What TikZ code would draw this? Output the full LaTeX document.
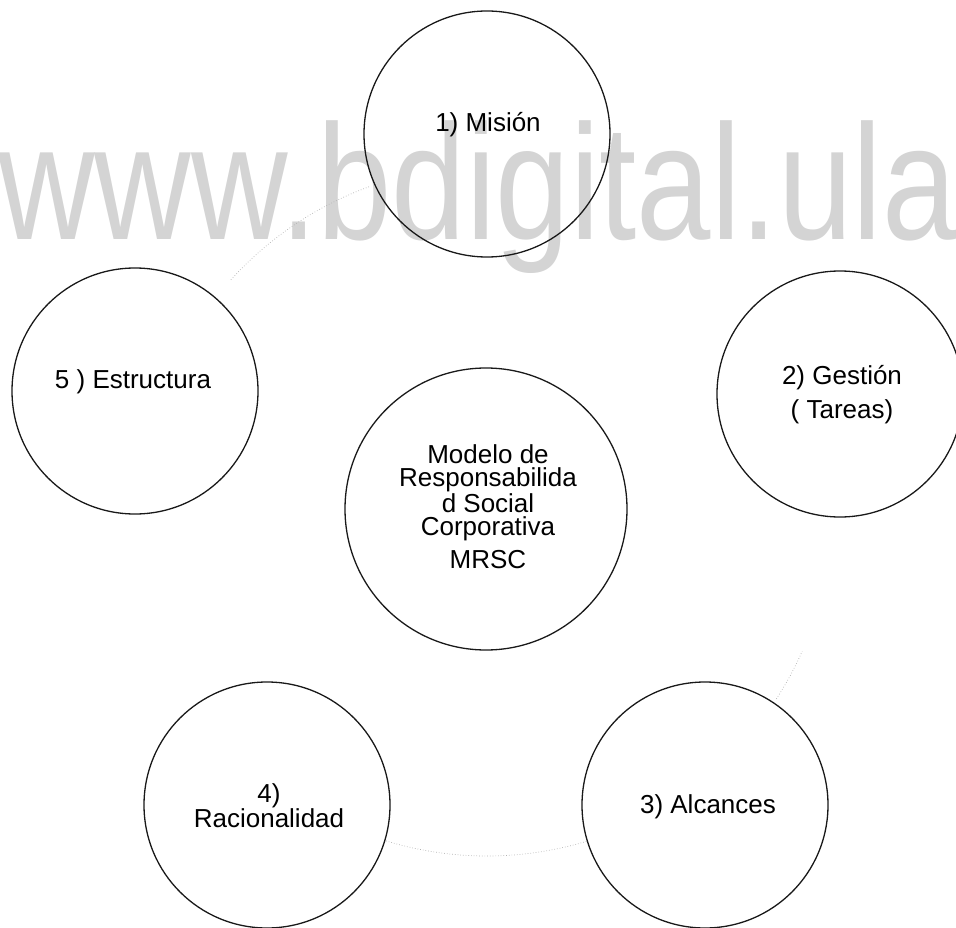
\documentclass[tikz,border=0pt]{standalone}
\usepackage{fontspec}
\setmainfont{Liberation Sans}
\definecolor{wm}{RGB}{212,212,212}
\begin{document}
\begin{tikzpicture}[x=1pt,y=1pt,
  bub/.style={circle, draw=black!90, line width=1.3pt, minimum size=246pt, inner sep=0pt},
  lbl/.style={align=center, inner sep=0pt, font=\fontsize{26}{25}\selectfont},
  ring/.style={draw=black!30, line width=0.7pt, dotted}]
\useasboundingbox (0,0) rectangle (956,-928);
\clip (0,0) rectangle (956,-928);
% watermark
\node[anchor=base west, text=wm, inner sep=0pt, font=\fontsize{164}{164}\selectfont, xscale=0.815] (wmark) at (-2,-240) {www.bdigital.ula};
% faint ring
\coordinate (ctr) at (487,-511);
\draw[ring] (ctr) ++(110:345) arc[start angle=110, end angle=138, radius=345];
\draw[ring] (ctr) ++(253:345) arc[start angle=253, end angle=287, radius=345];
\draw[ring] (ctr) ++(327:345) arc[start angle=327, end angle=336, radius=345];
% circles
\node[bub] (c1) at (487,-134) {};
\node[bub] (c2) at (840,-394) {};
\node[bub] (c3) at (705,-805) {};
\node[bub] (c4) at (267,-805) {};
\node[bub] (c5) at (135,-391) {};
\node[bub, minimum size=282pt] (c0) at (486,-509) {};
% labels
\node[lbl] (t1) at (488,-125) {1) Misión};
\node[lbl] (t2) at (842,-395) {2) Gestión\\[9pt]( Tareas)};
\node[lbl] (t3) at (708,-807) {3) Alcances};
\node[lbl] (t4) at (269,-806) {4)\\Racionalidad};
\node[lbl] (t5) at (133,-382) {5 ) Estructura};
\node[lbl, font=\fontsize{26}{23}\selectfont] (t0) at (488,-507) {Modelo de\\Responsabilida\\d Social\\Corporativa\\[9pt]MRSC};
\end{tikzpicture}
\end{document}
